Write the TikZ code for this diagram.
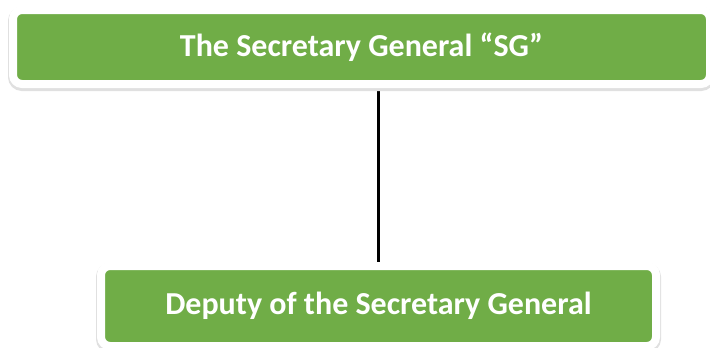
\documentclass[tikz,border=0pt]{standalone}
\usepackage{fontspec}
\setmainfont{Carlito}
\usetikzlibrary{backgrounds}
\definecolor{boxgreen}{HTML}{70AD47}
\tikzset{
  orgbox/.style={rectangle,rounded corners=9pt,fill=boxgreen,draw=white,
    line width=8pt,text=white,font=\fontsize{32}{38}\selectfont\bfseries,
    preaction={draw=black!12,line width=10pt,transform canvas={yshift=-2pt}}},
  link/.style={line width=2.5pt}
}
\begin{document}
\begin{tikzpicture}
  \useasboundingbox (0,0) rectangle (710pt,-348pt);
  \clip (0,0) rectangle (710pt,-348pt);
  % chart
  \node[orgbox,minimum width=697pt,minimum height=74pt] (sg) at (361.5pt,-47pt) {The Secretary General “SG”};
  \node[orgbox,minimum width=555pt,minimum height=80pt] (dsg) at (378.5pt,-306pt) {Deputy of the Secretary General};

  \begin{scope}[on background layer]
    \draw[link] (dsg.north) -- (dsg.north |- sg.south);
  \end{scope}
\end{tikzpicture}
\end{document}
